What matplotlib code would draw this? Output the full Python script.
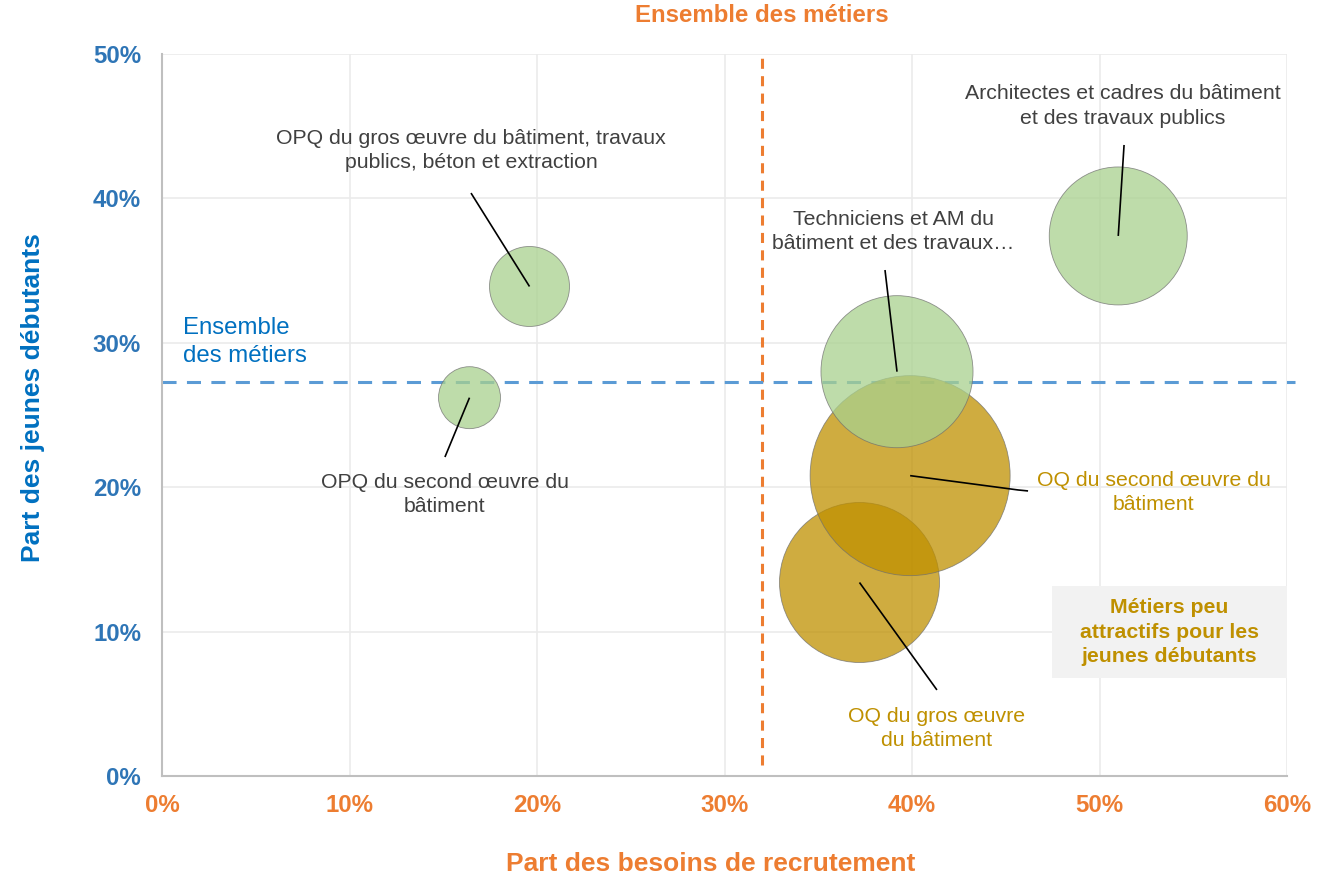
import matplotlib
matplotlib.use("Agg")
import matplotlib.pyplot as plt
from matplotlib.patches import Rectangle

plt.rcParams['font.family'] = ['Liberation Sans', 'DejaVu Sans']

# ---- data ----
names = [
    "OQ du gros œuvre\ndu bâtiment",
    "OQ du second œuvre du\nbâtiment",
    "OPQ du gros œuvre du bâtiment, travaux\npublics, béton et extraction",
    "OPQ du second œuvre du\nbâtiment",
    "Techniciens et AM du\nbâtiment et des travaux…",
    "Architectes et cadres du bâtiment\net des travaux publics",
]
groups = ["peu", "peu", "ok", "ok", "ok", "ok"]
part_besoins = [37.2, 39.9, 19.6, 16.4, 39.2, 51.0]      # x, %
part_debutants = [13.4, 20.8, 33.9, 26.2, 28.0, 37.4]    # y, %
volume = [64, 100, 16, 9.6, 57.8, 47.6]                   # bubble size (relative)
ref_besoins = 32.0
ref_debutants = 27.3
xticks = [0, 10, 20, 30, 40, 50, 60]
yticks = [0, 10, 20, 30, 40, 50]

# ---- layout (label centers and leader-line ends, data coords) ----
label_pos = [(41.33, 3.3), (52.9, 19.65), (16.48, 43.3), (15.09, 19.5), (38.99, 37.7), (51.25, 46.4)]
leader_pts = [
    [(41.33, 5.96)],
    [(45.65, 19.81), (46.19, 19.74)],
    [(16.48, 40.37)],
    [(15.09, 22.09)],
    [(38.56, 35.04)],
    [(51.31, 43.70)],
]

ORANGE = '#ED7D31'
BLUE_T = '#2E75B6'
BLUE_L = '#5B9BD5'
BLUE_X = '#0070C0'
GOLD = '#BF9000'
GREEN = '#A9D18E'
GREY_T = '#404040'

fig = plt.figure(figsize=(13.32, 8.77), dpi=100)
ax = fig.add_axes([162/1332, 101/877, 1125/1332, 722/877])
ax.set_xlim(0, 60)
ax.set_ylim(0, 50)

ax.set_xticks(xticks)
ax.set_yticks(yticks)
ax.set_xticklabels([f"{t}%" for t in xticks])
ax.set_yticklabels([f"{t}%" for t in yticks])
ax.tick_params(axis='x', length=0, pad=13, labelsize=17.3, labelcolor=ORANGE)
ax.tick_params(axis='y', length=0, pad=15, labelsize=17.3, labelcolor=BLUE_T)
for lab in ax.get_xticklabels() + ax.get_yticklabels():
    lab.set_fontweight('bold')
ax.grid(True, color='#EBEBEB', lw=1.2, zorder=0)
ax.set_axisbelow(True)
for s in ['top', 'right']:
    ax.spines[s].set_visible(False)
for s in ['left', 'bottom']:
    ax.spines[s].set_color('#BFBFBF')
    ax.spines[s].set_linewidth(1.5)

# reference lines
ax.axvline(ref_besoins, ymin=0.015, ymax=0.995, color=ORANGE, lw=2.2, ls=(0, (3.3, 2.4)), zorder=1)
ax.axhline(ref_debutants, xmin=0, xmax=1.0075, color=BLUE_L, lw=2.2, ls=(0, (4.6, 3.4)), zorder=1, clip_on=False)

# bubbles
scale = (2 * 100 * 0.72) ** 2 / 100.0
for g, col in [("peu", GOLD), ("ok", GREEN)]:
    idx = [i for i in range(len(names)) if groups[i] == g]
    ax.scatter([part_besoins[i] for i in idx], [part_debutants[i] for i in idx],
               s=[volume[i] * scale for i in idx], color=col, alpha=0.75,
               edgecolors='#6f6f6f', linewidths=0.6, zorder=3)

# labels and leader lines
for i in range(len(names)):
    col = GOLD if groups[i] == "peu" else GREY_T
    lx, ly = label_pos[i]
    ax.text(lx, ly, names[i], ha='center', va='center', fontsize=15.3, color=col,
            linespacing=1.34, zorder=5)
    pts = [(part_besoins[i], part_debutants[i])] + leader_pts[i]
    ax.plot([p[0] for p in pts], [p[1] for p in pts], color='black', lw=1.2,
            solid_capstyle='butt', zorder=4)

# "Ensemble des métiers" (horizontal line label)
ax.text(1.1, 30.05, "Ensemble\ndes métiers", ha='left', va='center', fontsize=17.3,
        color=BLUE_X, linespacing=1.37, zorder=5)

# box
ax.add_patch(Rectangle((47.47, 6.79), 12.53, 6.37, facecolor='#F2F2F2', edgecolor='none',
                       zorder=4.5, clip_on=False))
ax.text(53.71, 9.97, "Métiers peu\nattractifs pour les\njeunes débutants", ha='center', va='center',
        fontsize=15.3, fontweight='bold', color=GOLD, linespacing=1.37, zorder=5)

# titles
fig.text(762/1332, 1 - 16/877, "Ensemble des métiers", ha='center', va='center',
         fontsize=17.3, fontweight='bold', color=ORANGE)
fig.text(711/1332, 1 - 864/877, "Part des besoins de recrutement", ha='center', va='center',
         fontsize=19, fontweight='bold', color=ORANGE)
fig.text(33/1332, 1 - 398/877, "Part des jeunes débutants", ha='center', va='center',
         rotation=90, fontsize=19, fontweight='bold', color=BLUE_X)

fig.savefig("out.png", dpi=100)
